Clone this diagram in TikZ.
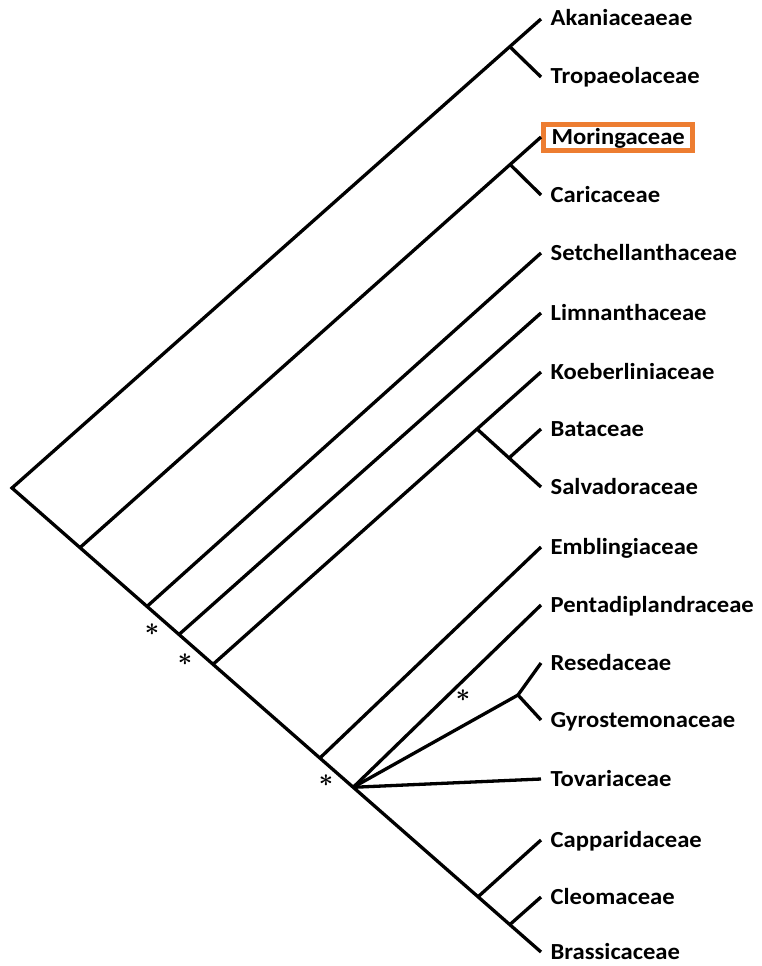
\documentclass[tikz,border=0pt]{standalone}
\usepackage{fontspec}
\setmainfont{Carlito}[FakeStretch=1.07]
\usetikzlibrary{positioning,calc}
\definecolor{boxorange}{RGB}{237,125,49}

\begin{document}
\begin{tikzpicture}[x=1pt, y=-1pt, line width=3.3pt,
  font=\fontsize{23}{27}\selectfont\bfseries,
  leaf/.style={anchor=west, inner xsep=8pt, inner ysep=3pt,
    text height=17pt, text depth=3pt},
  star/.style={inner sep=0pt, text height=12pt, text depth=0pt,
    font=\fontsize{25}{27}\selectfont\boldmath}]
  \useasboundingbox (0,0) rectangle (761,966);
  % taxa
  \node[leaf] (akan) at (541,19)  {Akaniaceaeae};
  \node[leaf] (trop) at (541,77)  {Tropaeolaceae};
  \node[leaf, draw=boxorange, line width=5pt, fill=white]
              (mori) at (541,137) {Moringaceae};
  \node[leaf] (cari) at (541,195) {Caricaceae};
  \node[leaf] (setc) at (541,253) {Setchellanthaceae};
  \node[leaf] (limn) at (541,313) {Limnanthaceae};
  \node[leaf] (koeb) at (541,372) {Koeberliniaceae};
  \node[leaf] (bata) at (541,429) {Bataceae};
  \node[leaf] (salv) at (541,487) {Salvadoraceae};
  \node[leaf] (embl) at (541,547) {Emblingiaceae};
  \node[leaf] (pent) at (541,605) {Pentadiplandraceae};
  \node[leaf] (rese) at (541,663) {Resedaceae};
  \node[leaf] (gyro) at (541,720) {Gyrostemonaceae};
  \node[leaf] (tova) at (541,779) {Tovariaceae};
  \node[leaf] (capp) at (541,840) {Capparidaceae};
  \node[leaf] (cleo) at (541,897) {Cleomaceae};
  \node[leaf] (bras) at (541,952) {Brassicaceae};
  % backbone
  \coordinate (root) at (12,488);
  \draw (akan.west) -- coordinate[pos=0.059] (akTr) (root)
    -- coordinate[pos=0.1285] (j1) coordinate[pos=0.2552] (j2)
       coordinate[pos=0.3157] (j3) coordinate[pos=0.380] (j4)
       coordinate[pos=0.582] (j5) coordinate[pos=0.645] (poly)
       coordinate[pos=0.881] (caBr) coordinate[pos=0.941] (clBr) (bras.west);
  \draw (akTr) -- (trop.west);
  % side branches
  \draw (j1) -- coordinate[pos=0.933] (moCa) (mori.west);
  \draw (moCa) -- (cari.west);
  \draw (j2) -- (setc.west);
  \draw (j3) -- (limn.west);
  \draw (j4) -- coordinate[pos=0.805] (koBa) (koeb.west);
  \draw (koBa) -- coordinate[pos=0.5] (baSa) (salv.west);
  \draw (baSa) -- (bata.west);
  \draw (j5) -- (embl.west);
  \coordinate (reGy) at (518,695);
  \draw (poly) -- (pent.west);
  \draw (poly) -- (reGy);
  \draw (rese.west) -- (reGy) -- (gyro.west);
  \draw (poly) -- (tova.west);
  \draw (caBr) -- (capp.west);
  \draw (clBr) -- (cleo.west);
  % support marks
  \node[star] (s1) at (152,629) {$\ast$};
  \node[star] (s2) at (185,659) {$\ast$};
  \node[star] (s3) at (326,780) {$\ast$};
  \node[star] (s4) at (463,695) {$\ast$};
\end{tikzpicture}
\end{document}
